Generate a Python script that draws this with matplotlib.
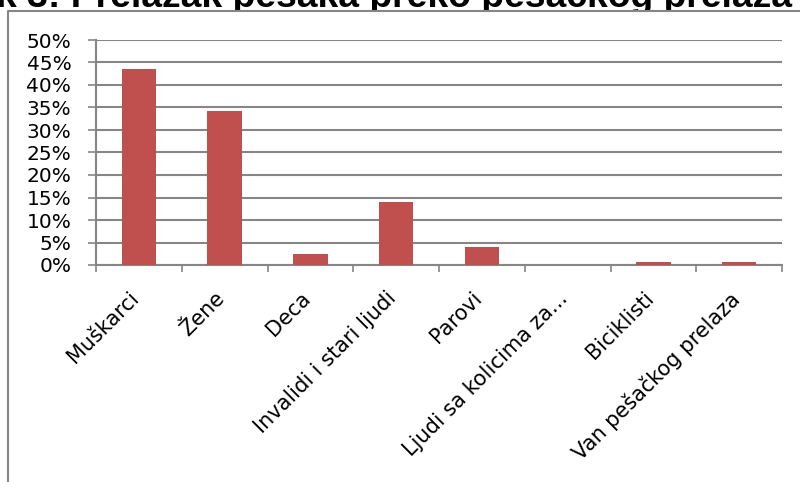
import matplotlib.pyplot as plt
import numpy as np
from matplotlib.lines import Line2D
from matplotlib.patches import Rectangle
from matplotlib.ticker import FixedLocator
from matplotlib.transforms import ScaledTranslation, blended_transform_factory

# data
categories = ["Muškarci", "Žene", "Deca", "Invalidi i stari ljudi", "Parovi",
              "Ljudi sa kolicima za...", "Biciklisti", "Van pešačkog prelaza"]
shares = [43.6, 34.2, 2.5, 14.1, 4.1, 0.0, 0.7, 0.6]
y_ticks = [0, 5, 10, 15, 20, 25, 30, 35, 40, 45, 50]
title = "Grafik 3: Prelazak pešaka preko pešačkog prelaza"

bar_color = "#C0504D"
grid_color = "#868686"

fig = plt.figure(figsize=(8, 4.82), dpi=100)
ax = fig.add_axes([96/800, 1-265/482, (782-96)/800, (265-40)/482])

x = np.arange(len(categories))
ax.bar(x, shares, width=0.4, color=bar_color, zorder=3)

ax.set_xlim(-0.5, len(categories) - 0.5)
ax.set_ylim(0, 50)
ax.set_yticks(y_ticks)
ax.set_yticklabels([f"{v}%" for v in y_ticks], fontsize=14.5, family="DejaVu Sans")
ax.yaxis.grid(True, color=grid_color, linewidth=1.5, zorder=0)
ax.tick_params(axis="y", length=5.8, width=1.2, color=grid_color, pad=12)

# category ticks sit between bars, labels on bar centres
ax.set_xticks(x)
ax.set_xticklabels([])
ax.tick_params(axis="x", which="major", length=0)
ax.xaxis.set_minor_locator(FixedLocator(np.arange(-0.5, len(categories), 1)))
ax.tick_params(axis="x", which="minor", length=5, width=1.2, color=grid_color)

# rotated category labels, end of text under the bar centre
lbl_trans = blended_transform_factory(ax.transData, ax.transAxes) + \
    ScaledTranslation(-0.10, -0.23, fig.dpi_scale_trans)
for xi, name in zip(x, categories):
    ax.text(xi, 0, name, transform=lbl_trans, rotation=45, ha="right", va="top",
            rotation_mode="anchor", fontsize=15, family="DejaVu Sans")

for side in ["top", "right"]:
    ax.spines[side].set_visible(False)
for side in ["left", "bottom"]:
    ax.spines[side].set_color(grid_color)
    ax.spines[side].set_linewidth(1.5)

# title, mostly cut off at the top, under the white chart area
fig.text(792/800, 1 - 7/482, title, ha="right", va="baseline", fontsize=26.8,
         fontweight="bold", family="Liberation Sans", zorder=-2)

# chart frame, cut off by the picture edges
fx = 8/800
fy = 1 - 11/482
fig.add_artist(Rectangle((fx, -0.01), 1.02 - fx, fy + 0.01, transform=fig.transFigure,
                         facecolor="white", edgecolor="none", zorder=-1))
fig.add_artist(Line2D([fx, fx, 1.01], [-0.01, fy, fy], transform=fig.transFigure,
                      color=grid_color, linewidth=1.5, zorder=-0.5))

fig.savefig("out.png", dpi=100)
